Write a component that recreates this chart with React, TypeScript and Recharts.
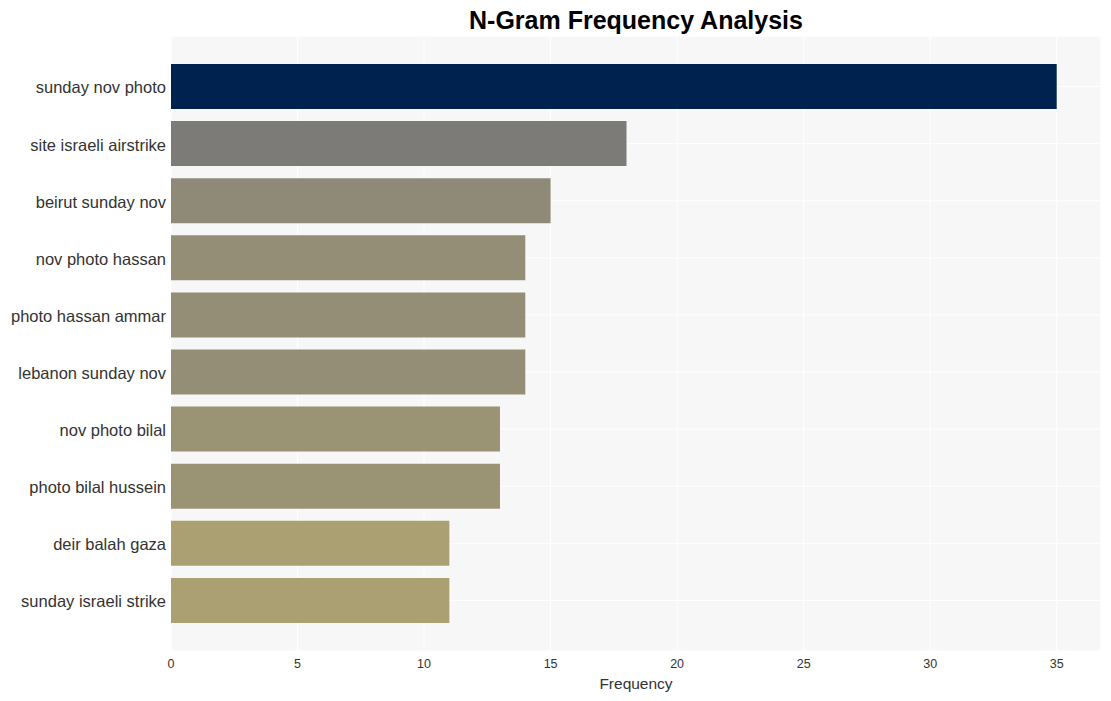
import { BarChart, Bar, XAxis, YAxis, CartesianGrid, Cell } from "recharts";

// n-grams, top to bottom
const ngrams = [
  "sunday nov photo",
  "site israeli airstrike",
  "beirut sunday nov",
  "nov photo hassan",
  "photo hassan ammar",
  "lebanon sunday nov",
  "nov photo bilal",
  "photo bilal hussein",
  "deir balah gaza",
  "sunday israeli strike",
];
const frequencies = [35, 18, 15, 14, 14, 14, 13, 13, 11, 11];
const barColors = [
  "#00224e",
  "#7c7b78",
  "#8f8a78",
  "#948e76",
  "#948e76",
  "#948e76",
  "#9b9474",
  "#9b9474",
  "#aba072",
  "#aba072",
];
const xTicks = [0, 5, 10, 15, 20, 25, 30, 35];

const font = "'Liberation Sans', Arial, sans-serif";

export default function App() {
  const data = ngrams.map((name, i) => ({ name, value: frequencies[i] }));

  return (
    <div style={{ position: "relative", width: 1103, height: 693, fontFamily: font }}>
      <div
        style={{
          position: "absolute",
          left: 0,
          top: 0,
          width: 1256,
          textAlign: "center",
          fontSize: 25,
          lineHeight: "24px",
          fontWeight: "bold",
          color: "#000",
        }}
      >
        N-Gram Frequency Analysis
      </div>
      <BarChart
        width={1103}
        height={693}
        data={data}
        layout="vertical"
        margin={{ top: 28, right: 10, bottom: 0, left: 0 }}
      >
        <CartesianGrid fill="#f7f7f7" stroke="#ffffff" strokeWidth={1} />
        <XAxis
          type="number"
          domain={[0, 36.75]}
          ticks={xTicks}
          height={50}
          axisLine={false}
          tickLine={false}
          tickSize={0}
          tickMargin={8}
          tick={{ fontSize: 12.5, fill: "#333", fontFamily: font }}
          label={{
            value: "Frequency",
            position: "insideBottom",
            offset: 12,
            style: { fontSize: 15.5, fill: "#333", fontFamily: font },
          }}
        />
        <YAxis
          type="category"
          dataKey="name"
          width={163}
          padding={{ top: 22, bottom: 22 }}
          axisLine={false}
          tickLine={false}
          tickSize={0}
          tickMargin={5}
          interval={0}
          tick={{ fontSize: 16.5, fill: "#333", fontFamily: font, dy: 1 }}
        />
        <Bar dataKey="value" barSize={45} isAnimationActive={false}>
          {data.map((d, i) => (
            <Cell key={d.name} fill={barColors[i]} />
          ))}
        </Bar>
      </BarChart>
    </div>
  );
}
